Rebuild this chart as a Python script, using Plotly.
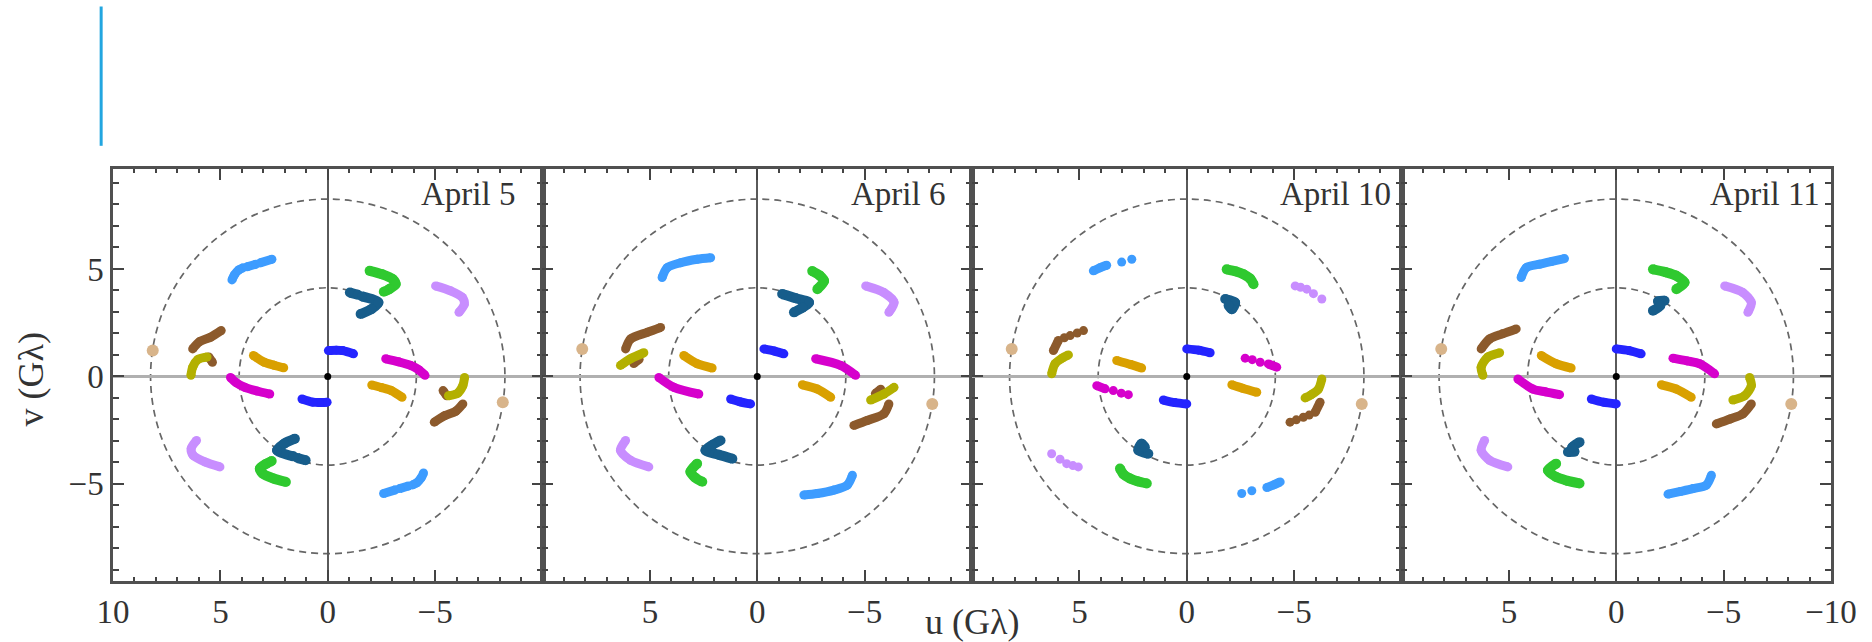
import plotly.graph_objects as go

# ---------------- data ----------------
DAYS = ["April 5", "April 6", "April 10", "April 11"]
N = None  # gap inside a track

# One half of each baseline track; the conjugate half (-u, -v) is also drawn.
sky_u = {"April 5": [4.46, 4.35, 4.15, 3.95, N, 3.75, 3.35, N, 3.15, 2.60],
         "April 6": [4.43, 4.19, 3.57, 2.80, 2.17],
         "April 10": [4.35, 4.05, 3.73, N, 3.03, N, 2.56],
         "April 11": [4.43, 4.19, 3.57, 3.00, 2.41]}
sky_v = {"April 5": [4.49, 4.72, 4.95, 5.05, N, 5.10, 5.22, N, 5.28, 5.45],
         "April 6": [4.60, 5.06, 5.29, 5.45, 5.52],
         "April 10": [4.91, 5.05, 5.17, N, 5.32, N, 5.45],
         "April 11": [4.60, 5.06, 5.22, 5.35, 5.48]}

green_u = {"April 5": [-1.95, -2.53, -3.03, -3.16, -2.86, -2.61],
           "April 6": [-2.56, -2.90, -3.11, -2.80],
           "April 10": [-1.86, -2.30, -2.64, -2.95, -3.11],
           "April 11": [-1.71, -2.30, -2.80, -3.18, -2.80]}
green_v = {"April 5": [4.91, 4.75, 4.52, 4.29, 4.06, 3.94],
           "April 6": [4.90, 4.70, 4.44, 4.06],
           "April 10": [4.98, 4.88, 4.75, 4.55, 4.29],
           "April 11": [4.98, 4.85, 4.68, 4.37, 4.06]}

teal_u = {"April 5": [-1.03, -1.40, N, -1.60, -2.36, -2.03, -1.53],
          "April 6": [-1.16, -1.80, -2.41, -2.10, -1.71],
          "April 10": [-1.79, -2.25, -2.10, -1.95],
          "April 11": [-2.25, -1.95, -2.05, -1.71]}
teal_v = {"April 5": [3.90, 3.80, N, 3.72, 3.44, 3.13, 2.90],
          "April 6": [3.83, 3.64, 3.44, 3.20, 2.98],
          "April 10": [3.60, 3.44, 3.13, 3.30],
          "April 11": [3.52, 3.50, 3.30, 3.06]}

lav_u = {"April 5": [-5.02, -5.72, -6.27, -6.36, -6.11],
         "April 6": [-5.05, -5.90, -6.37, -6.13],
         "April 10": [-5.05, N, -5.30, N, -5.59, N, -5.90, N, -6.29],
         "April 11": [-5.05, -5.90, -6.29, -6.13]}
lav_v = {"April 5": [4.21, 3.98, 3.67, 3.36, 2.98],
         "April 6": [4.21, 3.90, 3.44, 2.98],
         "April 10": [4.21, N, 4.15, N, 4.06, N, 3.85, N, 3.60],
         "April 11": [4.21, 3.90, 3.44, 2.98]}

brown_u = {"April 5": [6.29, 5.96, 5.46, 4.96, N, 5.54, 5.37],
           "April 6": [6.13, 5.90, 5.12, 4.50, N, 5.75, 5.50],
           "April 10": [6.21, 5.98, N, 5.70, N, 5.43, N, 5.10, N, 4.81],
           "April 11": [6.29, 5.90, 5.30, 4.66]}
brown_v = {"April 5": [1.28, 1.62, 1.82, 2.13, N, 0.90, 0.66],
           "April 6": [1.28, 1.74, 2.05, 2.28, N, 0.60, 0.80],
           "April 10": [1.20, 1.67, N, 1.80, N, 1.90, N, 2.02, N, 2.13],
           "April 11": [1.28, 1.74, 1.98, 2.21]}

olive_u = {"April 5": [6.37, 6.29, 6.04, 5.62],
           "April 6": [6.37, 5.90, 5.28],
           "April 10": [6.29, 6.13, 5.80, 5.51],
           "April 11": [6.21, 6.29, 5.98, 5.43]}
olive_v = {"April 5": [0.05, 0.43, 0.79, 0.90],
           "April 6": [0.51, 0.82, 1.10],
           "April 10": [0.12, 0.59, 0.85, 1.00],
           "April 11": [0.05, 0.43, 0.90, 1.10]}

gold_u = {"April 5": [3.46, 2.96, 2.50, 2.05],
          "April 6": [3.42, 2.80, 2.10],
          "April 10": [3.26, 2.60, 2.10],
          "April 11": [3.49, 2.80, 2.10]}
gold_v = {"April 5": [0.97, 0.66, 0.52, 0.40],
          "April 6": [0.97, 0.59, 0.39],
          "April 10": [0.74, 0.55, 0.39],
          "April 11": [0.97, 0.59, 0.39]}

mag_u = {"April 5": [-2.70, -3.30, -3.86, -4.25, -4.53],
         "April 6": [-2.72, -3.88, -4.58],
         "April 10": [-2.72, N, -3.05, N, -3.42, N, -3.80, -4.19],
         "April 11": [-2.64, -3.30, -3.88, -4.58]}
mag_v = {"April 5": [0.82, 0.68, 0.51, 0.30, 0.05],
         "April 6": [0.82, 0.51, 0.05],
         "April 10": [0.85, N, 0.78, N, 0.66, N, 0.58, 0.43],
         "April 11": [0.85, 0.72, 0.59, 0.12]}

blue_u = {"April 5": [-0.03, -0.40, -0.70, -1.20],
          "April 6": [-0.31, -0.80, -1.24],
          "April 10": [0.00, -0.55, -1.09],
          "April 11": [0.00, -0.60, -1.16]}
blue_v = {"April 5": [1.20, 1.22, 1.20, 1.05],
          "April 6": [1.28, 1.18, 1.05],
          "April 10": [1.28, 1.22, 1.10],
          "April 11": [1.28, 1.20, 1.05]}

tan_u = {"April 5": [8.15], "April 6": [8.15], "April 10": [8.15], "April 11": [8.15]}
tan_v = {"April 5": [1.20], "April 6": [1.28], "April 10": [1.28], "April 11": [1.28]}

CIRCLE_RADII = [8.25, 4.125]      # G-lambda
X_TICKS = [10, 5, 0, -5, -10]
Y_TICKS = [5, 0, -5]

# ---------------- styling ----------------
TRACKS = [
    (sky_u, sky_v, "#3d9cff", 9),
    (green_u, green_v, "#2fc92f", 10),
    (teal_u, teal_v, "#175d8b", 10),
    (lav_u, lav_v, "#c88eff", 9),
    (brown_u, brown_v, "#8c5a2c", 9),
    (olive_u, olive_v, "#b3b000", 9),
    (gold_u, gold_v, "#d9a000", 9),
    (mag_u, mag_v, "#d600cc", 9),
    (blue_u, blue_v, "#2424ff", 9),
    (tan_u, tan_v, "#d8b48a", 12),
]

FONT = "Liberation Serif"
FRAME = "#505050"

fig = go.Figure()


def neg(vals):
    return [None if a is None else -a for a in vals]


for k, day in enumerate(DAYS):
    xa = "x" if k == 0 else f"x{k + 1}"
    ya = "y" if k == 0 else f"y{k + 1}"
    for tu, tv, col, w in TRACKS:
        u = tu[day]
        v = tv[day]
        uu = u + [None] + neg(u)
        vv = v + [None] + neg(v)
        fig.add_trace(go.Scatter(
            x=uu, y=vv, xaxis=xa, yaxis=ya, mode="lines+markers",
            line=dict(color=col, width=w, shape="spline", smoothing=0.8),
            marker=dict(color=col, size=w, line=dict(width=0)),
            showlegend=False, hoverinfo="skip"))
    fig.add_trace(go.Scatter(x=[0], y=[0], xaxis=xa, yaxis=ya, mode="markers",
                             marker=dict(color="black", size=7),
                             showlegend=False, hoverinfo="skip"))
    for r in CIRCLE_RADII:
        fig.add_shape(type="circle", xref=xa, yref=ya, x0=-r, x1=r, y0=-r, y1=r,
                      line=dict(color="#666666", width=1.7, dash="7px,5px"),
                      layer="below")
    fig.add_annotation(text=day, xref=xa, yref=ya, x=-4.25, y=8.5,
                       xanchor="left", yanchor="middle", showarrow=False,
                       font=dict(family=FONT, size=33, color="#333"))

    if k == 0:
        xt = ["10", "5", "0", "\u22125", ""]
    elif k == 3:
        xt = ["", "5", "0", "\u22125", "\u221210"]
    else:
        xt = ["", "5", "0", "\u22125", ""]

    minor_x = [i for i in range(-9, 10) if i % 5 != 0]
    xaxis = dict(domain=[k / 4, (k + 1) / 4], range=[10, -10], anchor=ya,
                 showline=True, linecolor=FRAME, linewidth=2.5, mirror="allticks",
                 ticks="inside", ticklen=11, tickwidth=2, tickcolor="#444",
                 tickmode="array", tickvals=X_TICKS, ticktext=xt,
                 ticklabelstandoff=0,
                 minor=dict(tickmode="array", tickvals=minor_x, ticks="inside",
                            ticklen=4, tickwidth=2, tickcolor="#444"),
                 showgrid=False, zeroline=True, zerolinecolor="#5a5a5a",
                 zerolinewidth=1.5, fixedrange=True,
                 tickfont=dict(family=FONT, size=33, color="#333"))
    minor_y = [i for i in range(-9, 10) if i % 5 != 0]
    yaxis = dict(domain=[0, 1], range=[-9.52, 9.65], anchor=xa,
                 showline=True, linecolor=FRAME, linewidth=2.5, mirror="allticks",
                 ticks="inside", ticklen=11, tickwidth=2, tickcolor="#444",
                 tickmode="array", tickvals=Y_TICKS,
                 ticktext=["5", "0", "\u22125"], showticklabels=(k == 0),
                 ticklabelstandoff=0,
                 minor=dict(tickmode="array", tickvals=minor_y, ticks="inside",
                            ticklen=6, tickwidth=2, tickcolor="#444"),
                 showgrid=False, zeroline=True, zerolinecolor="#b0b0b0",
                 zerolinewidth=2.5, fixedrange=True,
                 tickfont=dict(family=FONT, size=33, color="#333"))
    fig.update_layout({("xaxis" if k == 0 else f"xaxis{k + 1}"): xaxis,
                       ("yaxis" if k == 0 else f"yaxis{k + 1}"): yaxis})

# axis titles
fig.add_annotation(text="u (G\u03bb)", xref="paper", yref="paper", x=0.5, y=-0.10,
                   xanchor="center", yanchor="middle", showarrow=False,
                   font=dict(family=FONT, size=36, color="#333"))
fig.add_annotation(text="v (G\u03bb)", xref="paper", yref="paper", x=-0.0475, y=0.49,
                   xanchor="center", yanchor="middle", showarrow=False, textangle=-90,
                   font=dict(family=FONT, size=36, color="#333"))

# thin blue bar at the top left of the picture
fig.add_shape(type="line", xref="paper", yref="paper", x0=-0.0069, x1=-0.0069,
              y0=1.0563, y1=1.3944, line=dict(color="#22a6e0", width=3))

fig.update_layout(width=1872, height=642, autosize=False,
                  margin=dict(l=113, r=41, t=169, b=59),
                  paper_bgcolor="white", plot_bgcolor="white")

fig.write_html("out.html", config={"displayModeBar": False})
